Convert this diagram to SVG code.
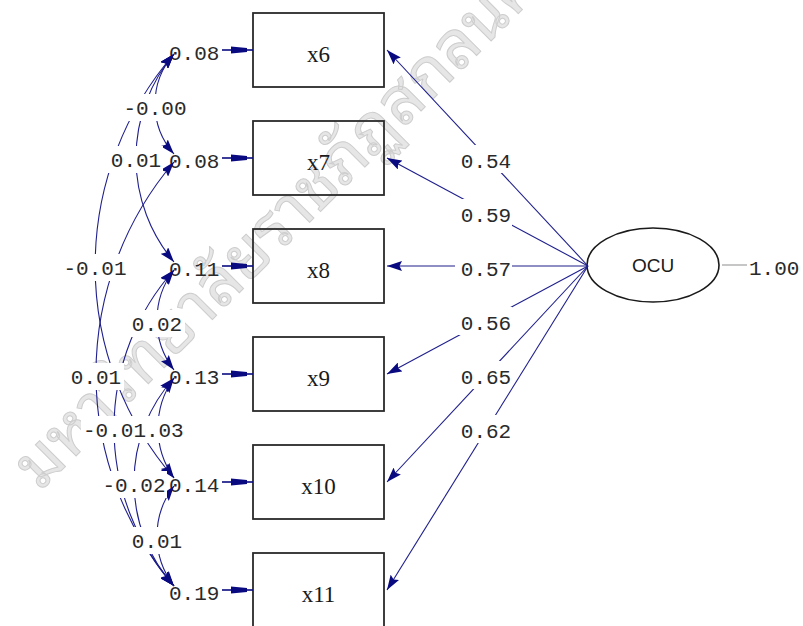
<svg xmlns="http://www.w3.org/2000/svg" width="803" height="626" viewBox="0 0 803 626">
  <style>
    .box { fill: none; stroke: #2a2a2a; stroke-width: 1.8; }
    .var { font-family: "Liberation Serif", serif; font-size: 23px; fill: #1a1a1a; text-anchor: middle; }
    .num { font-family: "Liberation Mono", monospace; font-size: 21px; fill: #2a2a2a; }
    .mid { text-anchor: middle; }
    .path { fill: none; stroke: #1e1e8c; stroke-width: 1.1; }
    .bg { fill: #ffffff; }
    .head { fill: #0a0a80; }
    .wm { font-family: "Noto Sans Thai Looped", "Noto Serif Thai", "Loma", "Garuda", "Waree", "Norasi", "Noto Sans Thai", sans-serif; font-size: 66px; fill: #e6e6e6; stroke: #cdcdcd; stroke-width: 1; }
  </style>
  <defs>
    <marker id="arrow" viewBox="0 0 15 10" refX="15" refY="5" markerWidth="15" markerHeight="10" markerUnits="userSpaceOnUse" orient="auto-start-reverse">
      <path class="head" d="M0,0 L15,5 L0,10 L2.5,5 z"/>
    </marker>
    <g id="errArrow">
      <line x1="222" y1="0" x2="253" y2="0" stroke="#0a0a80" stroke-width="1.6"/>
      <polygon class="head" points="231,-3.5 247,-2 247,2 231,3.5"/>
    </g>
  </defs>

  <rect width="803" height="626" fill="#ffffff"/>

  <!-- background watermark -->
  <text class="wm" transform="translate(40,492) rotate(-45)">มหาวิทยาลัยราชภัฏสกลนคร</text>

  <!-- observed variables -->
  <g id="x6"><rect class="box" x="253" y="13" width="131" height="74"/><text class="var" x="318.5" y="62">x6</text></g>
  <g id="x7"><rect class="box" x="253" y="121" width="131" height="74"/><text class="var" x="318.5" y="170">x7</text></g>
  <g id="x8"><rect class="box" x="253" y="229" width="131" height="74"/><text class="var" x="318.5" y="278">x8</text></g>
  <g id="x9"><rect class="box" x="253" y="337" width="131" height="74"/><text class="var" x="318.5" y="386">x9</text></g>
  <g id="x10"><rect class="box" x="253" y="445" width="131" height="74"/><text class="var" x="318.5" y="494">x10</text></g>
  <g id="x11"><rect class="box" x="253" y="553" width="131" height="74"/><text class="var" x="318.5" y="602">x11</text></g>

  <!-- latent variable -->
  <g id="OCU">
    <ellipse cx="653" cy="265" rx="66" ry="37" fill="none" stroke="#1a1a1a" stroke-width="1.6"/>
    <text x="653" y="272" font-family="'Liberation Sans', sans-serif" font-size="19" fill="#1a1a1a" text-anchor="middle">OCU</text>
    <line x1="722" y1="265" x2="747" y2="265" stroke="#a0a0a0" stroke-width="1.2"/>
    <text class="num" x="749" y="275">1.00</text>
  </g>

  <g id="connectors">
    <!-- loadings -->
    <g id="loadings">
      <line class="path" x1="588" y1="266" x2="387" y2="50" marker-end="url(#arrow)"/>
      <line class="path" x1="588" y1="266" x2="387" y2="158" marker-end="url(#arrow)"/>
      <line class="path" x1="588" y1="266" x2="387" y2="266" marker-end="url(#arrow)"/>
      <line class="path" x1="588" y1="266" x2="387" y2="374" marker-end="url(#arrow)"/>
      <line class="path" x1="588" y1="266" x2="387" y2="482" marker-end="url(#arrow)"/>
      <line class="path" x1="588" y1="266" x2="387" y2="590" marker-end="url(#arrow)"/>
      <rect class="bg" x="455" y="145" width="57" height="28"/><text class="num mid" x="486" y="168">0.54</text>
      <rect class="bg" x="455" y="199" width="57" height="28"/><text class="num mid" x="486" y="222">0.59</text>
      <rect class="bg" x="455" y="253" width="57" height="28"/><text class="num mid" x="486" y="276">0.57</text>
      <rect class="bg" x="455" y="307" width="57" height="28"/><text class="num mid" x="486" y="330">0.56</text>
      <rect class="bg" x="455" y="361" width="56" height="28"/><text class="num mid" x="486" y="384">0.65</text>
      <rect class="bg" x="455" y="415" width="56" height="28"/><text class="num mid" x="486" y="438">0.62</text>
    </g>

    <!-- error variances -->
    <g id="errors">
      <text class="num" x="169" y="60">0.08</text>
      <text class="num" x="169" y="168">0.08</text>
      <text class="num" x="169" y="276">0.11</text>
      <text class="num" x="169" y="384">0.13</text>
      <text class="num" x="169" y="492">0.14</text>
      <text class="num" x="169" y="600">0.19</text>
      <use href="#errArrow" transform="translate(0,50)"/>
      <use href="#errArrow" transform="translate(0,158)"/>
      <use href="#errArrow" transform="translate(0,266)"/>
      <use href="#errArrow" transform="translate(0,374)"/>
      <use href="#errArrow" transform="translate(0,482)"/>
      <use href="#errArrow" transform="translate(0,590)"/>
    </g>

    <!-- error covariances -->
    <g id="covariances">
      <path class="path" d="M174,54 A75.3,75.3 0 0 0 174,154" marker-start="url(#arrow)" marker-end="url(#arrow)"/>
      <path class="path" d="M174,54 A161.3,161.3 0 0 0 174,262" marker-start="url(#arrow)" marker-end="url(#arrow)"/>
      <path class="path" d="M174,54 A324.4,324.4 0 0 0 174,478" marker-start="url(#arrow)" marker-end="url(#arrow)"/>
      <path class="path" d="M174,270 A82,82 0 0 0 174,370" marker-start="url(#arrow)" marker-end="url(#arrow)"/>
      <path class="path" d="M174,162 A327,327 0 0 0 174,586" marker-start="url(#arrow)" marker-end="url(#arrow)"/>
      <path class="path" d="M174,270 A238,238 0 0 0 174,586" marker-start="url(#arrow)" marker-end="url(#arrow)"/>
      <path class="path" d="M174,378 A86.1,86.1 0 0 0 174,478" marker-start="url(#arrow)" marker-end="url(#arrow)"/>
      <path class="path" d="M174,378 A155.2,155.2 0 0 0 174,586" marker-start="url(#arrow)" marker-end="url(#arrow)"/>
      <path class="path" d="M174,486 A82,82 0 0 0 174,586" marker-start="url(#arrow)" marker-end="url(#arrow)"/>

      <rect class="bg" x="120" y="94" width="69" height="27"/><text class="num mid" x="155" y="115">-0.00</text>
      <rect class="bg" x="108" y="146" width="55" height="27"/><text class="num mid" x="136" y="167">0.01</text>
      <rect class="bg" x="60" y="254" width="69" height="27"/><text class="num mid" x="95" y="275">-0.01</text>
      <rect class="bg" x="129" y="310" width="56" height="27"/><text class="num mid" x="157" y="331">0.02</text>
      <rect class="bg" x="68" y="363" width="56" height="27"/><text class="num mid" x="96" y="384">0.01</text>
      <rect class="bg" x="131" y="416" width="56" height="27"/><text class="num mid" x="158.5" y="437">0.03</text>
      <rect class="bg" x="81" y="416" width="64" height="27"/><text class="num mid" x="114.5" y="437">-0.01</text>
      <rect class="bg" x="100" y="471" width="67" height="27"/><text class="num mid" x="134" y="492">-0.02</text>
      <rect class="bg" x="129" y="527" width="56" height="27"/><text class="num mid" x="157" y="548">0.01</text>
    </g>
  </g>
</svg>
